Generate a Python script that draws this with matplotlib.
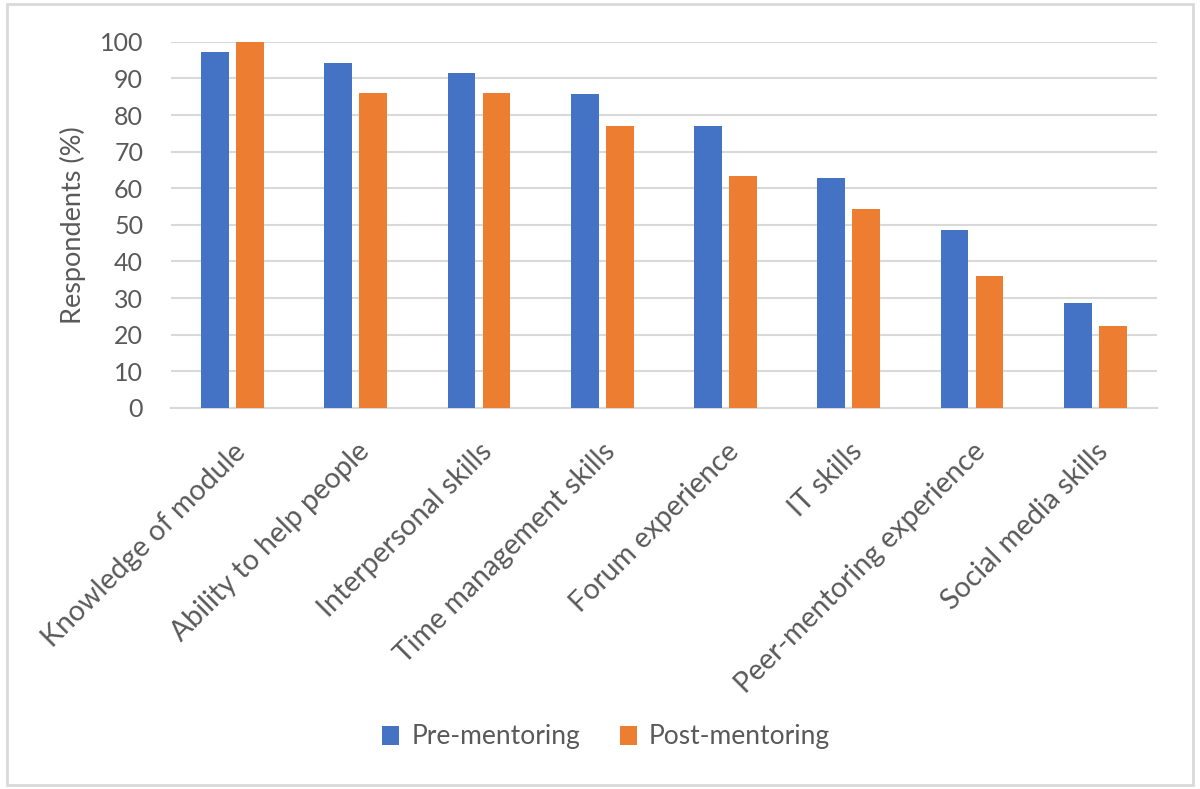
import matplotlib.pyplot as plt
import numpy as np
from matplotlib.patches import Rectangle

# Dados
categorias = ["Knowledge of module", "Ability to help people", "Interpersonal skills",
              "Time management skills", "Forum experience", "IT skills",
              "Peer-mentoring experience", "Social media skills"]
pre_mentoring = [97.1, 94.3, 91.4, 85.7, 77.1, 62.9, 48.6, 28.6]
post_mentoring = [100, 86.1, 86.1, 77.1, 63.3, 54.2, 36.1, 22.3]

plt.rcParams['font.family'] = ['Lato', 'DejaVu Sans']
cor_texto = '#595959'

fig = plt.figure(figsize=(12, 7.89), dpi=100)
ax = fig.add_axes([0.1425, 0.483, 0.8215, 0.464])

x = np.arange(len(categorias))
largura = 0.225
ax.bar(x - 0.142, pre_mentoring, largura, color='#4472C4', label='Pre-mentoring', zorder=3)
ax.bar(x + 0.142, post_mentoring, largura, color='#ED7D31', label='Post-mentoring', zorder=3)

ax.set_xlim(-0.5, len(categorias) - 0.5)
ax.set_ylim(0, 100)
ax.set_yticks(range(0, 101, 10))
ax.yaxis.grid(True, color='#d9d9d9', linewidth=1.5, zorder=0)
ax.set_axisbelow(True)
for lado in ['top', 'right', 'left']:
    ax.spines[lado].set_visible(False)
ax.spines['bottom'].set_color('#d9d9d9')
ax.spines['bottom'].set_linewidth(1.5)
ax.tick_params(axis='both', length=0, colors=cor_texto)
ax.tick_params(axis='y', pad=20, labelsize=18)

ax.set_xticks(x)
ax.set_xticklabels(categorias, rotation=45, ha='right', rotation_mode='anchor', fontsize=20.5)
ax.tick_params(axis='x', pad=22)

ax.set_ylabel('Respondents (%)', fontsize=19.5, color=cor_texto, labelpad=10)

fig.legend(loc='center', bbox_to_anchor=(0.505, 0.066), ncol=2, frameon=False,
           fontsize=19, handlelength=0.65, handleheight=0.75, columnspacing=1.5,
           handletextpad=0.45, labelcolor=cor_texto)

# Moldura cinza ao redor da figura
fig.patches.append(Rectangle((0.006, 0.005), 0.988, 0.99, transform=fig.transFigure,
                             fill=False, edgecolor='#d9d9d9', linewidth=2))

plt.savefig('out.png')
